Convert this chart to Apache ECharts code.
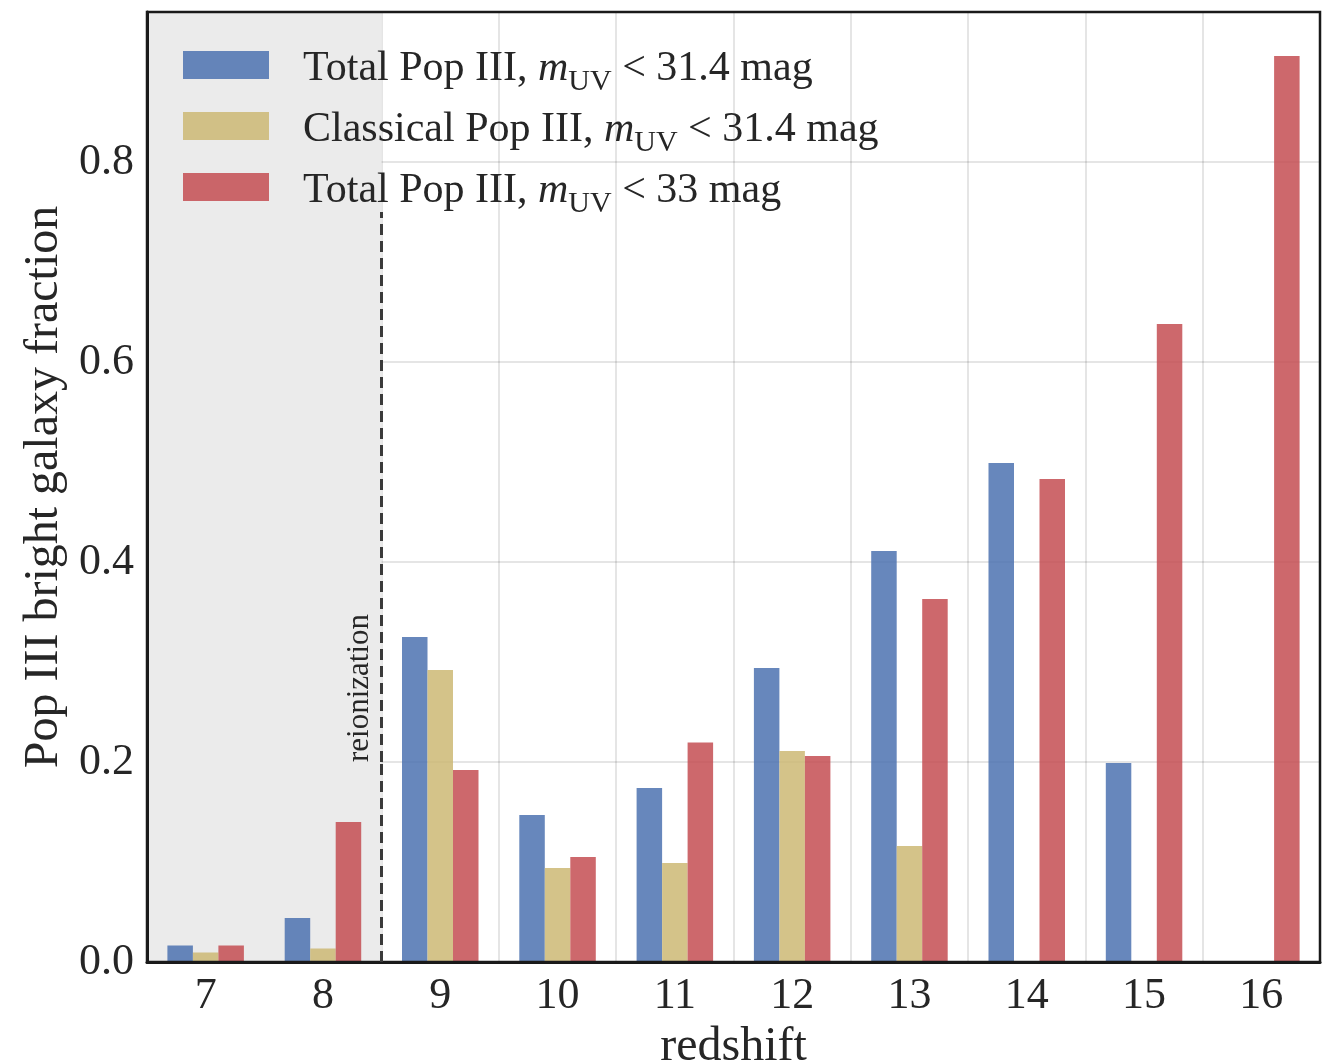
<!DOCTYPE html>
<html>
<head>
<meta charset="utf-8">
<script src="https://cdn.jsdelivr.net/npm/echarts@6/dist/echarts.min.js"></script>
<style>
html,body{margin:0;padding:0;background:#fff;}
#chart{width:1332px;height:1062px;}
</style>
</head>
<body>
<div id="chart"></div>
<script>
// ---- data ----
const redshifts = ['7','8','9','10','11','12','13','14','15','16'];
const totalPop3_314 = [0.0165, 0.044, 0.325, 0.147, 0.174, 0.294, 0.411, 0.499, 0.199, 0];
const classicalPop3_314 = [0.0095, 0.0135, 0.292, 0.094, 0.099, 0.211, 0.116, 0, 0, 0];
const totalPop3_33 = [0.0165, 0.14, 0.192, 0.105, 0.2195, 0.206, 0.363, 0.483, 0.638, 0.906];
const yTicks = [0.0, 0.2, 0.4, 0.6, 0.8];
const seriesNames = ['Total Pop III, m<31.4', 'Classical Pop III, m<31.4', 'Total Pop III, m<33'];
const legendPrefix = ['Total Pop III, ', 'Classical Pop III, ', 'Total Pop III, '];
const legendLimit = ['31.4', '31.4', '33'];
const reionizationZ = 8.5;   // boundary of shaded region
const shadedStart = 6.5;
const reionLineTop = 0.75;
const reionLabelY = 0.2;

const FONT = '"Liberation Serif", "DejaVu Serif", serif';
const TXT = '#262626';
const colors = ['rgba(76,114,176,0.85)', 'rgba(204,185,116,0.85)', 'rgba(196,78,82,0.85)'];

const chart = echarts.init(document.getElementById('chart'));

const barSeries = [totalPop3_314, classicalPop3_314, totalPop3_33].map((d, i) => ({
  name: seriesNames[i],
  type: 'bar',
  data: d,
  barWidth: 25.5,
  barGap: '0%',
  itemStyle: { color: colors[i] },
  z: 3
}));

const dashStyle = { color: '#3a3a3a', width: 3, type: [11, 6] };

const option = {
  backgroundColor: '#fff',
  animation: false,
  textStyle: { fontFamily: FONT },
  grid: {
    left: 147, top: 12, right: 12, bottom: 100,
    outerBoundsMode: 'none',
    containLabel: false,
    show: true, borderColor: '#1a1a1a', borderWidth: 2.5, backgroundColor: 'transparent',
    z: 5
  },
  legend: {
    orient: 'vertical',
    left: 178, top: 38,
    itemWidth: 86, itemHeight: 28,
    itemGap: 7,
    icon: 'rect',
    data: seriesNames,
    formatter: function (name) {
      const i = seriesNames.indexOf(name);
      return '{sp|}{a|' + legendPrefix[i] + '}{i|m}{s|UV}{a| < ' + legendLimit[i] + ' mag}';
    },
    textStyle: {
      fontFamily: FONT, color: TXT, fontSize: 42,
      rich: {
        sp: { width: 29, lineHeight: 44, verticalAlign: 'top', padding: [5, 0, 0, 0] },
        a: { fontFamily: FONT, fontSize: 42, color: TXT, lineHeight: 44, verticalAlign: 'top', padding: [5, 0, 0, 0] },
        i: { fontFamily: FONT, fontSize: 42, fontStyle: 'italic', color: TXT, lineHeight: 44, verticalAlign: 'top', padding: [5, 0, 0, 0] },
        s: { fontFamily: FONT, fontSize: 30, color: TXT, lineHeight: 30, verticalAlign: 'top', padding: [24, 0, 0, 0] }
      }
    }
  },
  xAxis: [
    {
      type: 'category',
      data: redshifts,
      boundaryGap: true,
      name: 'redshift',
      nameLocation: 'middle',
      nameGap: 60,
      nameTextStyle: { fontFamily: FONT, fontSize: 48, color: TXT },
      axisLine: { show: true, lineStyle: { color: '#1a1a1a', width: 3 } },
      axisTick: { show: false },
      axisLabel: { fontFamily: FONT, fontSize: 44, color: TXT, margin: 12 },
      splitLine: { show: true, interval: 0, lineStyle: { color: 'rgba(0,0,0,0.1)', width: 2 } },
      z: 1
    },
    {
      type: 'value',
      min: shadedStart, max: 16.5,
      show: false
    }
  ],
  yAxis: {
    type: 'value',
    min: 0, max: 0.95, interval: 0.2,
    name: 'Pop III bright galaxy fraction',
    nameLocation: 'middle',
    nameGap: 78,
    nameTextStyle: { fontFamily: FONT, fontSize: 48, color: TXT },
    axisLine: { show: true, lineStyle: { color: '#1a1a1a', width: 3 } },
    axisTick: { show: false },
    axisLabel: {
      fontFamily: FONT, fontSize: 44, color: TXT, margin: 13,
      showMaxLabel: false,
      formatter: v => (yTicks.some(t => Math.abs(t - v) < 1e-9) ? v.toFixed(1) : '')
    },
    splitLine: { show: true, lineStyle: { color: 'rgba(0,0,0,0.1)', width: 2 } },
    z: 1
  },
  series: [
    {
      name: 'shade',
      type: 'line',
      xAxisIndex: 1,
      data: [],
      z: -1,
      silent: true,
      markArea: {
        silent: true,
        itemStyle: { color: '#ebebeb' },
        data: [[{ coord: [shadedStart, 0] }, { coord: [reionizationZ, 0.95] }]]
      }
    },
    {
      name: 'reion',
      type: 'line',
      xAxisIndex: 1,
      data: [],
      z: 4,
      silent: true,
      markLine: {
        silent: true,
        symbol: ['none', 'none'],
        animation: false,
        lineStyle: dashStyle,
        data: [
          [
            { coord: [reionizationZ, 0], label: { show: false } },
            { coord: [reionizationZ, reionLabelY] }
          ],
          [
            { coord: [reionizationZ, reionLabelY],
              label: { show: true, formatter: 'reionization', position: 'insideStartTop', distance: [0, 6],
                       fontFamily: FONT, fontSize: 31, color: TXT } },
            { coord: [reionizationZ, reionLineTop] }
          ]
        ]
      }
    }
  ].concat(barSeries)
};

chart.setOption(option);
</script>
</body>
</html>
